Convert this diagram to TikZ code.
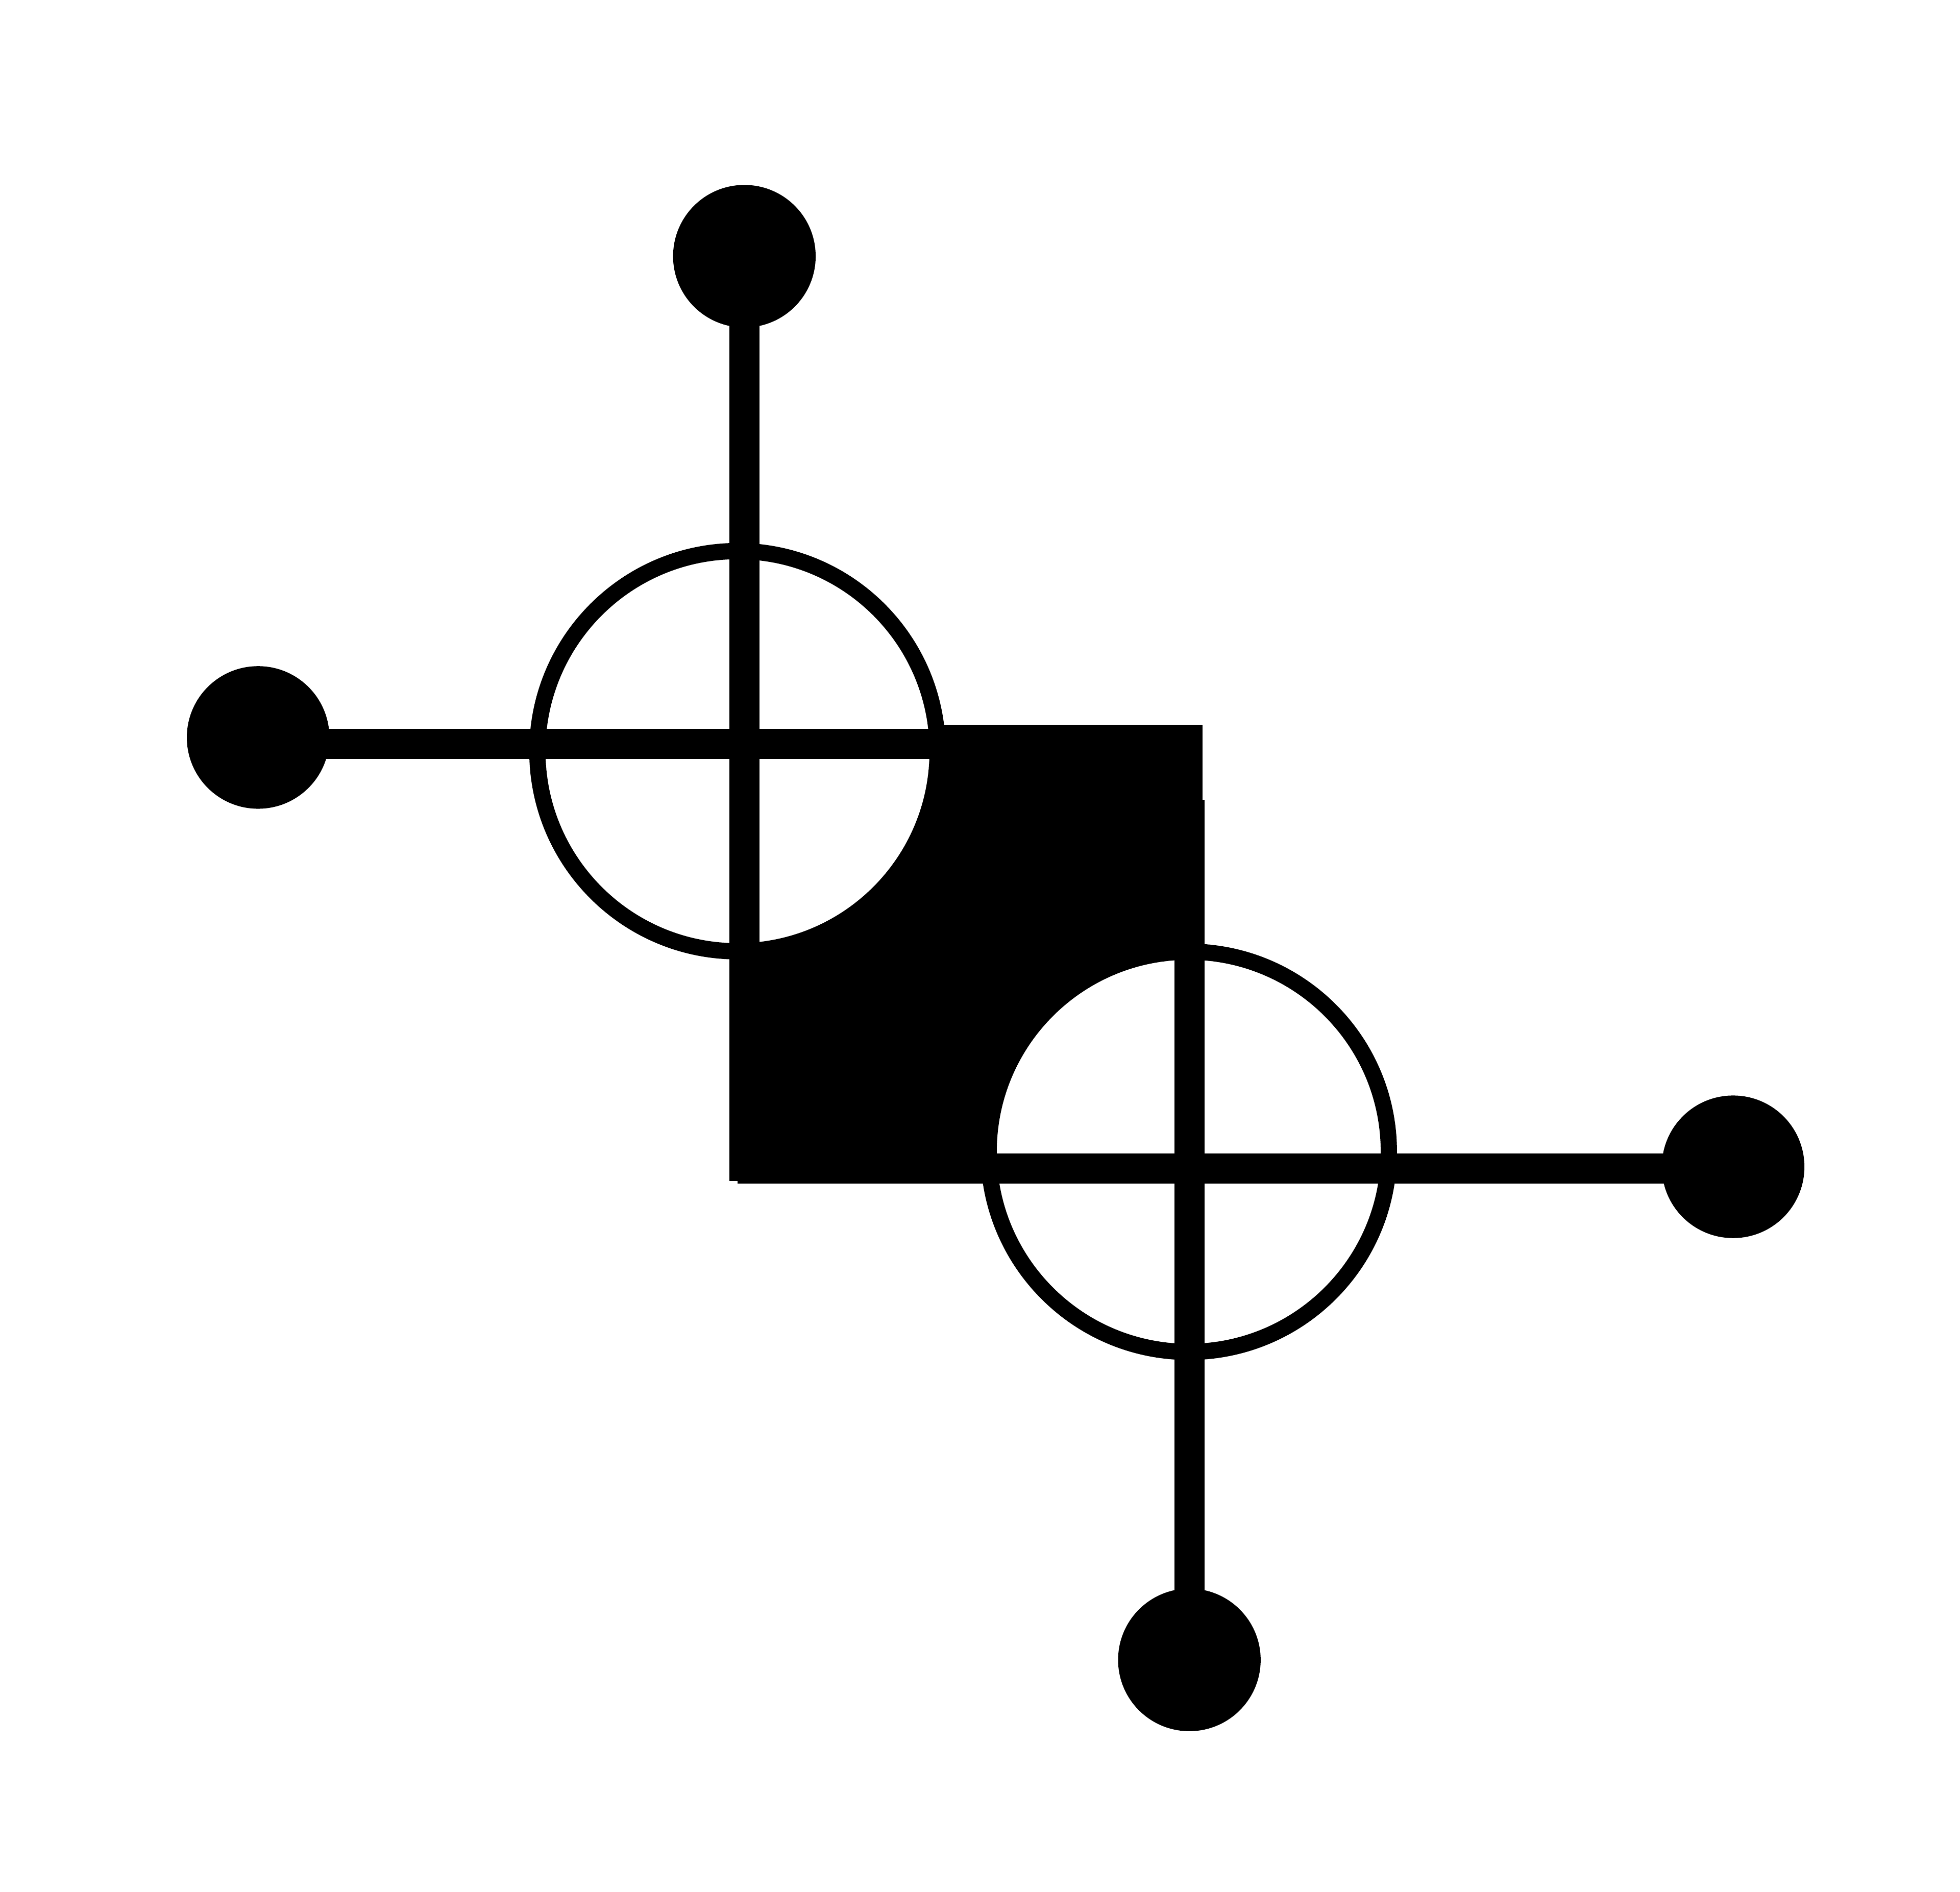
\documentclass[tikz,border=0pt]{standalone}
\usetikzlibrary{calc}
\tikzset{
  knob/.style={circle,fill=black,inner sep=0pt,minimum size=1.14cm},
  ring/.style={circle,draw=black,fill=white,line width=0.13cm,inner sep=0pt,minimum size=3.2cm},
  bar/.style={line width=0.24cm,line cap=butt}
}
\begin{document}
\begin{tikzpicture}[line join=miter,x=0.01cm,y=-0.01cm]
  \useasboundingbox (0,0) rectangle (1568,1513.7);
  % block behind the two rings
  \fill[black] (590,580) rectangle (962,947);
  \node[ring] (ringA) at (590,601) {};
  \node[ring] (ringB) at (951,921.5) {};
  \node[knob] (knobN) at (595.5,205) {};
  \node[knob] (knobW) at (206.5,590) {};
  \node[knob] (knobE) at (1386.5,933.5) {};
  \node[knob] (knobS) at (951.5,1328) {};
  \coordinate (endA) at (595.5,945);
  \coordinate (endB) at (760,595);
  \coordinate (startC) at (590,935);
  \coordinate (startD) at (951.5,640);
  % arms
  \draw[bar] (knobN.center) -- (endA);
  \draw[bar] (knobW.center |- endB) -- (endB);
  \draw[bar] (startC) -- (knobE.center |- startC);
  \draw[bar] (startD) -- (knobS.center);
\end{tikzpicture}
\end{document}
